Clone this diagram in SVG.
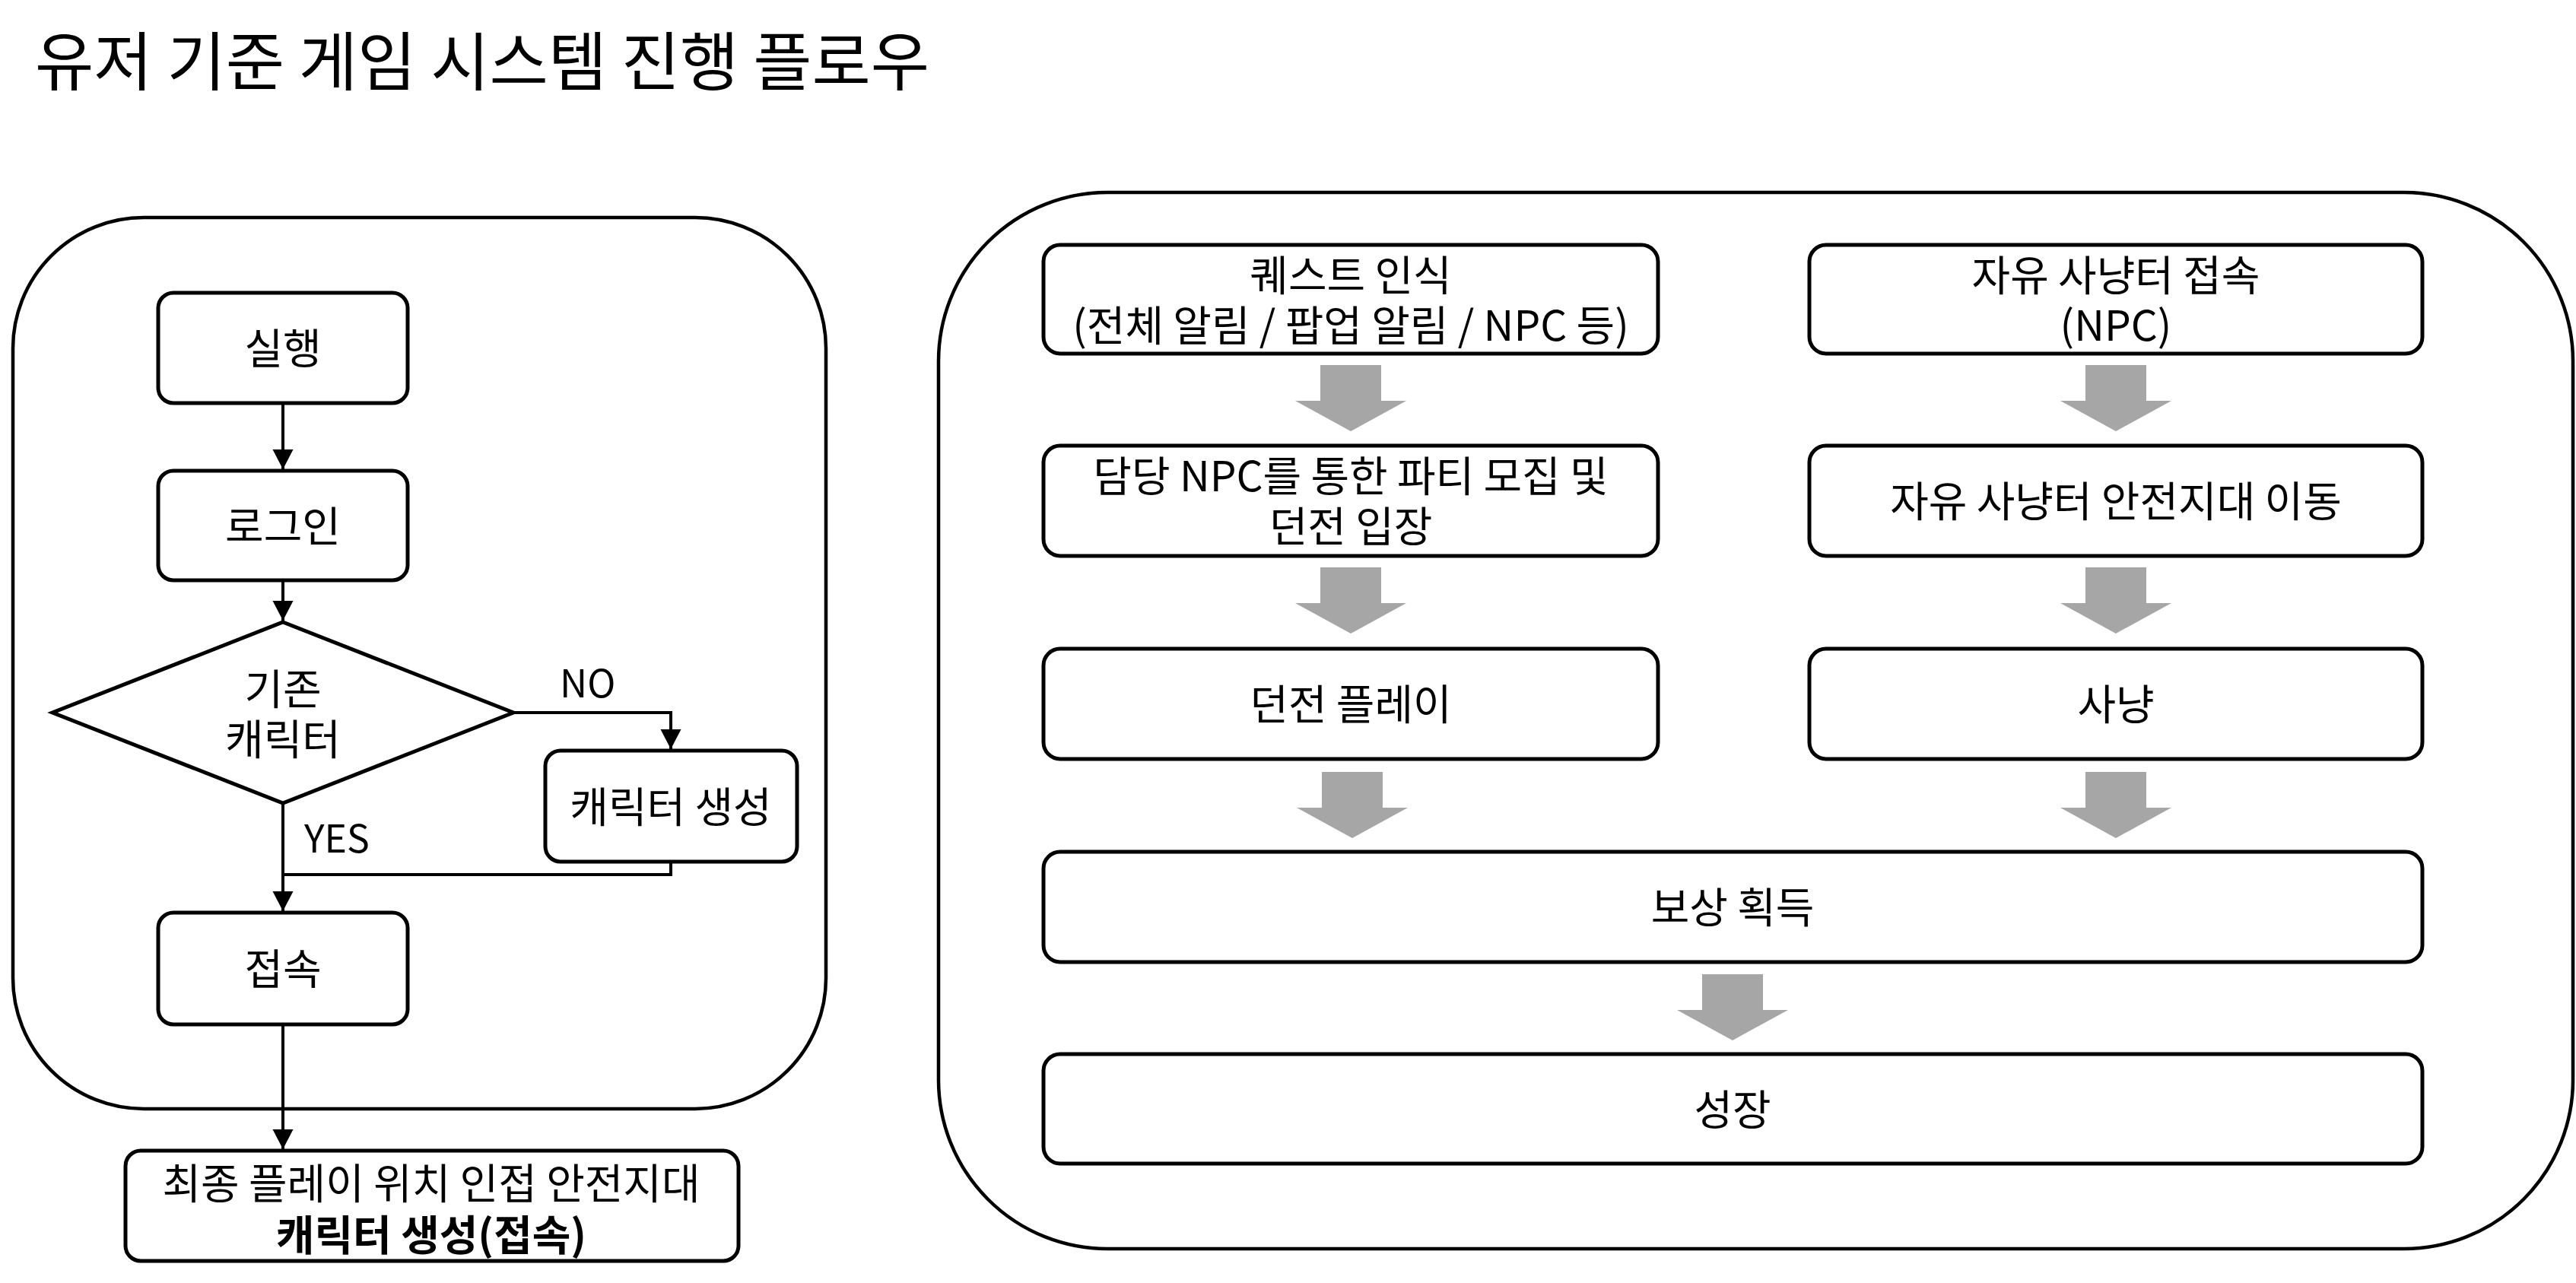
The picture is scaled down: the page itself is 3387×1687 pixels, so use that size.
<svg xmlns="http://www.w3.org/2000/svg" width="3387" height="1687" viewBox="0 0 3387 1687">
<style>
text{font-family:'Noto Sans CJK KR','Noto Sans',sans-serif;fill:#000}
.t{font-size:55px;text-anchor:middle}
.lbl{font-size:50px}
.title{font-size:84px}
.box{fill:#fff;stroke:#000;stroke-width:5}
.cont{fill:none;stroke:#000;stroke-width:4.5}
.ln{fill:none;stroke:#000;stroke-width:4}
.garrow{fill:#a6a6a6}
</style>
<defs>
<marker id="ah" markerUnits="userSpaceOnUse" markerWidth="28" markerHeight="28" refX="26" refY="13.5" orient="auto">
<path d="M0,0 L26,13.5 L0,27 Z" fill="#000"/>
</marker>
<path id="ga" d="M-40,0 H40 V47 H73 L0,87 L-73,47 H-40 Z"/>
</defs>
<rect width="3387" height="1687" fill="#fff"/>
<text class="title" x="46" y="112">유저 기준 게임 시스템 진행 플로우</text>

<g id="left-container"><rect class="cont" x="17" y="286" width="1069" height="1172" rx="172" ry="172"/></g>
<g id="right-container"><rect class="cont" x="1234" y="253" width="2149" height="1389" rx="222" ry="222"/></g>

<g id="connectors">
<path class="ln" d="M372,530 V617" marker-end="url(#ah)"/>
<path class="ln" d="M372,763 V816" marker-end="url(#ah)"/>
<path class="ln" d="M675,937 H882 V985" marker-end="url(#ah)"/>
<path class="ln" d="M372,1056 V1198" marker-end="url(#ah)"/>
<path class="ln" d="M882,1133 V1150 H372"/>
<path class="ln" d="M372,1347 V1511" marker-end="url(#ah)"/>
<use href="#ga" class="garrow" x="1776" y="480"/>
<use href="#ga" class="garrow" x="2782" y="480"/>
<use href="#ga" class="garrow" x="1776" y="746"/>
<use href="#ga" class="garrow" x="2782" y="746"/>
<use href="#ga" class="garrow" x="1778" y="1015"/>
<use href="#ga" class="garrow" x="2782" y="1015"/>
<use href="#ga" class="garrow" x="2278" y="1281"/>
<text class="lbl" x="736" y="917">NO</text>
<text class="lbl" x="400" y="1121">YES</text>
</g>

<g id="n-run"><rect class="box" x="208" y="385" width="328" height="145" rx="20"/><text class="t" x="372" y="478">실행</text></g>
<g id="n-login"><rect class="box" x="208" y="619" width="328" height="144" rx="20"/><text class="t" x="372" y="712">로그인</text></g>
<g id="n-decision"><polygon class="box" points="372,818 675,937 372,1056 69,937"/><text class="t" x="372" y="926">기존<tspan x="372" y="992">캐릭터</tspan></text></g>
<g id="n-create"><rect class="box" x="717" y="987" width="331" height="146" rx="20"/><text class="t" x="882" y="1081">캐릭터 생성</text></g>
<g id="n-connect"><rect class="box" x="208" y="1200" width="328" height="147" rx="20"/><text class="t" x="372" y="1294">접속</text></g>
<g id="n-final"><rect class="box" x="165" y="1513" width="806" height="145" rx="20"/><text class="t" x="567" y="1576">최종 플레이 위치 인접 안전지대<tspan x="567" y="1644" font-weight="bold">캐릭터 생성(접속)</tspan></text></g>

<g id="n-quest"><rect class="box" x="1372" y="322" width="808" height="143" rx="22"/><text class="t" x="1776" y="382">퀘스트 인식<tspan x="1776" y="448">(전체 알림 / 팝업 알림 / NPC 등)</tspan></text></g>
<g id="n-party"><rect class="box" x="1372" y="586" width="808" height="145" rx="22"/><text class="t" x="1776" y="646">담당 NPC를 통한 파티 모집 및<tspan x="1776" y="712">던전 입장</tspan></text></g>
<g id="n-dungeon"><rect class="box" x="1372" y="853" width="808" height="145" rx="22"/><text class="t" x="1776" y="946">던전 플레이</text></g>
<g id="n-field"><rect class="box" x="2379" y="322" width="806" height="143" rx="22"/><text class="t" x="2782" y="382">자유 사냥터 접속<tspan x="2782" y="448">(NPC)</tspan></text></g>
<g id="n-safe"><rect class="box" x="2379" y="586" width="806" height="145" rx="22"/><text class="t" x="2782" y="679">자유 사냥터 안전지대 이동</text></g>
<g id="n-hunt"><rect class="box" x="2379" y="853" width="806" height="145" rx="22"/><text class="t" x="2782" y="946">사냥</text></g>
<g id="n-reward"><rect class="box" x="1372" y="1120" width="1813" height="145" rx="22"/><text class="t" x="2278" y="1213">보상 획득</text></g>
<g id="n-grow"><rect class="box" x="1372" y="1386" width="1813" height="144" rx="22"/><text class="t" x="2278" y="1479">성장</text></g>
</svg>
